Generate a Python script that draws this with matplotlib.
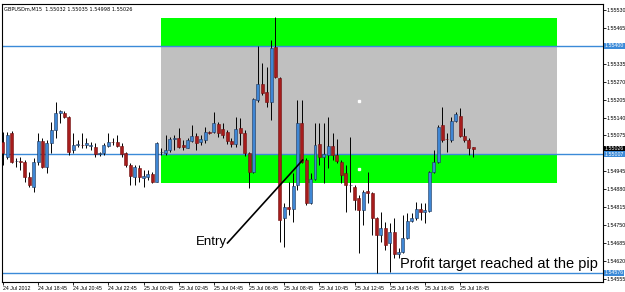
import numpy as np
import matplotlib as mpl
import matplotlib.pyplot as plt
import matplotlib.transforms as mtransforms

mpl.rcParams['font.family'] = ['Liberation Sans', 'DejaVu Sans']

# GBPUSD M15 candles
opens = [1.55052, 1.54997, 1.55084, 1.54983, 1.54983, 1.54979, 1.54925, 1.54888, 1.54979, 1.55055,
         1.54961, 1.55048, 1.55095, 1.55157, 1.55157, 1.55142, 1.55022, 1.55042, 1.55042, 1.55041,
         1.55037, 1.55033, 1.55008, 1.55012, 1.55037, 1.55053, 1.55052, 1.55037, 1.55012, 1.54968,
         1.54925, 1.54957, 1.54921, 1.54925, 1.54935, 1.54906, 1.55015, 1.55012, 1.55022, 1.55064,
         1.55066, 1.55041, 1.55030, 1.55055, 1.55073, 1.55052, 1.55059, 1.55088, 1.55088, 1.55117,
         1.55099, 1.55088, 1.55055, 1.55044, 1.55102, 1.55084, 1.55012, 1.54943, 1.55204, 1.55262,
         1.55233, 1.55197, 1.55396, 1.55284, 1.54776, 1.54816, 1.54808, 1.54895, 1.55120, 1.54986,
         1.54830, 1.54917, 1.55044, 1.54997, 1.55004, 1.55037, 1.55004, 1.54979, 1.54939, 1.54894,
         1.54888, 1.54848, 1.54805, 1.54874, 1.54866, 1.54776, 1.54714, 1.54739, 1.54685, 1.54725,
         1.54645, 1.54652, 1.54703, 1.54765, 1.54776, 1.54808, 1.54797, 1.54801, 1.54943, 1.54979,
         1.55113, 1.55064, 1.55059, 1.55128, 1.55146, 1.55073, 1.55059, 1.55032]
highs = [1.55088, 1.55088, 1.55091, 1.54993, 1.54997, 1.54986, 1.54943, 1.54993, 1.55084, 1.55066,
         1.55059, 1.55124, 1.55197, 1.55168, 1.55164, 1.55146, 1.55084, 1.55059, 1.55084, 1.55066,
         1.55052, 1.55048, 1.55015, 1.55048, 1.55084, 1.55066, 1.55077, 1.55048, 1.55015, 1.54975,
         1.54968, 1.54968, 1.54950, 1.54950, 1.54943, 1.55052, 1.55030, 1.55077, 1.55070, 1.55077,
         1.55102, 1.55059, 1.55066, 1.55113, 1.55084, 1.55077, 1.55106, 1.55091, 1.55160, 1.55124,
         1.55120, 1.55095, 1.55066, 1.55142, 1.55139, 1.55095, 1.55015, 1.55211, 1.55400, 1.55338,
         1.55324, 1.55422, 1.55505, 1.55287, 1.54830, 1.54906, 1.54939, 1.55204, 1.55204, 1.54993,
         1.54939, 1.55120, 1.55120, 1.55120, 1.55142, 1.55084, 1.55062, 1.54986, 1.54968, 1.55070,
         1.54895, 1.54859, 1.54877, 1.54943, 1.54870, 1.54779, 1.54797, 1.54761, 1.54758, 1.54776,
         1.54667, 1.54787, 1.54794, 1.54794, 1.54834, 1.54830, 1.54830, 1.54946, 1.55022, 1.55113,
         1.55179, 1.55084, 1.55142, 1.55160, 1.55175, 1.55102, 1.55066, 1.55035]
lows = [1.54968, 1.54990, 1.54975, 1.54961, 1.54950, 1.54906, 1.54888, 1.54870, 1.54968, 1.54957,
        1.54939, 1.55012, 1.55066, 1.55120, 1.55139, 1.55004, 1.55012, 1.55033, 1.55030, 1.55030,
        1.55022, 1.54997, 1.55001, 1.55004, 1.55033, 1.55041, 1.55033, 1.54997, 1.54961, 1.54895,
        1.54895, 1.54906, 1.54888, 1.54914, 1.54903, 1.54905, 1.55004, 1.55004, 1.55015, 1.55022,
        1.55030, 1.55022, 1.55028, 1.55052, 1.55022, 1.55041, 1.55048, 1.55081, 1.55084, 1.55070,
        1.55066, 1.55044, 1.55033, 1.55033, 1.55041, 1.55001, 1.54885, 1.54939, 1.55197, 1.55222,
        1.55179, 1.55131, 1.55284, 1.54689, 1.54670, 1.54787, 1.54761, 1.54877, 1.54975, 1.54823,
        1.54828, 1.54914, 1.54968, 1.54903, 1.54957, 1.54986, 1.54975, 1.54903, 1.54797, 1.54870,
        1.54805, 1.54649, 1.54750, 1.54830, 1.54714, 1.54576, 1.54689, 1.54659, 1.54580, 1.54630,
        1.54630, 1.54649, 1.54701, 1.54761, 1.54768, 1.54768, 1.54758, 1.54797, 1.54939, 1.54975,
        1.55052, 1.55015, 1.55052, 1.55124, 1.55070, 1.55052, 1.55004, 1.54998]
closes = [1.55012, 1.55077, 1.54979, 1.54984, 1.54979, 1.54925, 1.54895, 1.54979, 1.55055, 1.54961,
          1.55048, 1.55095, 1.55157, 1.55164, 1.55142, 1.55015, 1.55041, 1.55044, 1.55041, 1.55048,
          1.55039, 1.55008, 1.55012, 1.55041, 1.55052, 1.55050, 1.55037, 1.55008, 1.54968, 1.54928,
          1.54961, 1.54925, 1.54928, 1.54935, 1.54906, 1.55048, 1.55016, 1.55022, 1.55062, 1.55066,
          1.55033, 1.55033, 1.55059, 1.55073, 1.55048, 1.55062, 1.55088, 1.55084, 1.55120, 1.55084,
          1.55077, 1.55055, 1.55044, 1.55099, 1.55084, 1.55012, 1.54943, 1.55208, 1.55262, 1.55229,
          1.55197, 1.55393, 1.55287, 1.54768, 1.54816, 1.54808, 1.54892, 1.55120, 1.54979, 1.54830,
          1.54917, 1.55041, 1.54997, 1.55008, 1.55037, 1.55004, 1.54983, 1.54932, 1.54895, 1.54895,
          1.54841, 1.54805, 1.54870, 1.54866, 1.54776, 1.54714, 1.54739, 1.54678, 1.54725, 1.54645,
          1.54652, 1.54703, 1.54765, 1.54776, 1.54808, 1.54797, 1.54805, 1.54943, 1.54979, 1.55106,
          1.55059, 1.55061, 1.55128, 1.55153, 1.55073, 1.55059, 1.55030, 1.55026]

time_labels = ['24 Jul 2012', '24 Jul 18:45', '24 Jul 20:45', '24 Jul 22:45', '25 Jul 00:45',
               '25 Jul 02:45', '25 Jul 04:45', '25 Jul 06:45', '25 Jul 08:45', '25 Jul 10:45',
               '25 Jul 12:45', '25 Jul 14:45', '25 Jul 16:45', '25 Jul 18:45']
price_ticks = [1.55530, 1.55465, 1.55400, 1.55335, 1.55270, 1.55205, 1.55140, 1.55075,
               1.54945, 1.54880, 1.54815, 1.54750, 1.54685, 1.54620, 1.54555]

# drawn objects
hlines = [1.55400, 1.55007, 1.54576]
zone_x = [35.9, 126.1]
zone_top = [1.55500, 1.55400]      # upper green
zone_mid = [1.55400, 1.55007]      # grey box
zone_low = [1.55007, 1.54903]      # lower green
entry_x = [51.1, 68.2]
entry_y = [1.54685, 1.54986]
handle_x = [81.1, 81.1]
handle_y = [1.55200, 1.54953]

o = np.array(opens); h = np.array(highs); l = np.array(lows); c = np.array(closes)
idx = np.arange(len(o))
bull = c >= o

fig = plt.figure(figsize=(6.25, 2.92), dpi=100)
ax = fig.add_axes([0.0032, 0.034, 0.9608, 0.954])

line_blue = '#3b8ad8'
ax.fill_between(zone_x, zone_top[1], zone_top[0], color='#00ff00', lw=0, zorder=1)
ax.fill_between(zone_x, zone_mid[1], zone_mid[0], color='#c0c0c0', lw=0, zorder=1)
ax.fill_between(zone_x, zone_low[1], zone_low[0], color='#00ff00', lw=0, zorder=1)
for p in hlines:
    ax.axhline(p, color=line_blue, lw=1.0, zorder=2)

# candles
ax.vlines(idx, l, h, color='black', lw=0.7, zorder=3)
body_lo = np.minimum(o, c)
body_h = np.maximum(np.abs(c - o), 0.000012)
ax.bar(idx[bull], body_h[bull], bottom=body_lo[bull], width=0.68,
       color='#3f86d4', edgecolor='#1d3557', lw=0.4, zorder=4)
ax.bar(idx[~bull], body_h[~bull], bottom=body_lo[~bull], width=0.68,
       color='#a61c1c', edgecolor='#6e0f0f', lw=0.4, zorder=4)

ax.plot(handle_x, handle_y, ls='none', marker='s', ms=1.5, color='white', zorder=5)

# annotations
ax.plot(entry_x, entry_y, color='black', lw=1.2, zorder=6)
ax.text(43.8, 1.54689, 'Entry', fontsize=9.5, va='center', ha='left', zorder=6)
ax.text(90.4, 1.54610, 'Profit target reached at the pip', fontsize=10.5, va='center',
        ha='left', zorder=6)

ax.set_xlim(-0.2, 136.4)
ax.set_ylim(1.54543, 1.55554)

# price scale on the right; the 1.55400 label sits under the line's own price box
ax.yaxis.tick_right()
ax.set_yticks(price_ticks)
ax.set_yticklabels(['' if p in hlines else '%.5f' % p for p in price_ticks])
ax.set_xticks(np.arange(len(time_labels)) * 8)
ax.set_xticklabels(time_labels, ha='left')
ax.tick_params(axis='both', labelsize=3.8, length=2, width=0.6, pad=1, direction='out')
for s in ax.spines.values():
    s.set_linewidth(0.8)

trans = mtransforms.blended_transform_factory(ax.transAxes, ax.transData)
price_boxes = [(1.55400, line_blue), (1.55026, 'black'), (1.55007, line_blue), (1.54576, line_blue)]
for p, col in price_boxes:
    ax.text(1.0035, p, '%.5f' % p, transform=trans, fontsize=3.8, color='white', va='center',
            ha='left', bbox=dict(facecolor=col, edgecolor='none', pad=0.5), clip_on=False, zorder=7)

ax.text(0.004, 0.99, 'GBPUSDm,M15  1.55032 1.55035 1.54998 1.55026', transform=ax.transAxes,
        fontsize=3.6, va='top', ha='left', family='DejaVu Sans')

plt.savefig('out.png', dpi=100)
